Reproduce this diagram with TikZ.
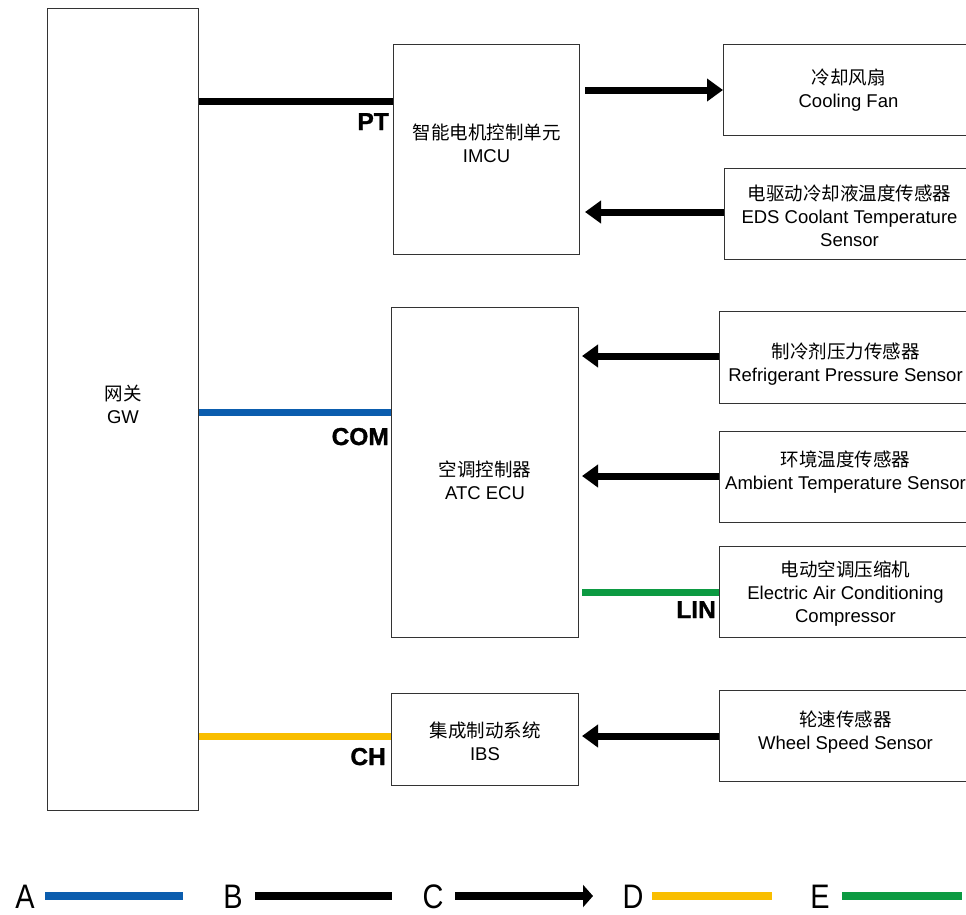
\documentclass[tikz,border=0pt]{standalone}
\usepackage{fontspec}
\setmainfont{Liberation Sans}
\newfontfamily\cjk{Noto Sans CJK SC}
\newfontfamily\heavy[FakeBold=1.2]{Liberation Sans Bold}
\usetikzlibrary{arrows.meta}
\definecolor{busblue}{HTML}{0B5DAE}
\definecolor{busyellow}{HTML}{F9BE00}
\definecolor{busgreen}{HTML}{0C9A42}
\definecolor{boxline}{HTML}{333333}
\tikzset{
  box/.style={draw=boxline, line width=1pt, fill=white, anchor=north west, inner sep=0pt},
  txt/.style={align=center, font=\fontsize{18.5}{23}\selectfont, inner sep=0pt},
  bus/.style={line width=7pt},
  sig/.style={line width=7pt, -{Triangle[length=16pt,width=22pt]}},
  buslabel/.style={font=\fontsize{24.5}{24.5}\heavy, inner sep=0pt},
  legletter/.style={font=\fontsize{34}{34}\selectfont, inner sep=0pt, anchor=base},
}
\begin{document}
\begin{tikzpicture}[x=1pt,y=-1pt]
\useasboundingbox (0,0) rectangle (966,914);
% main boxes
\node[box, minimum width=151pt, minimum height=802pt] (gw) at (47,8) {};
\node[box, minimum width=186pt, minimum height=210pt] (imcu) at (393,44) {};
\node[box, minimum width=187pt, minimum height=330pt] (atc) at (391,307) {};
\node[box, minimum width=187pt, minimum height=92pt] (ibs) at (391,693) {};
% right boxes (cut by the picture edge)
\node[box, minimum width=250pt, minimum height=91pt] (fan) at (723,44) {};
\node[box, minimum width=250pt, minimum height=91pt] (eds) at (724,168) {};
\node[box, minimum width=252pt, minimum height=92pt] (rps) at (719,311) {};
\node[box, minimum width=252pt, minimum height=91pt] (amb) at (719,431) {};
\node[box, minimum width=252pt, minimum height=91pt] (eac) at (719,546) {};
\node[box, minimum width=252pt, minimum height=91pt] (wss) at (719,690) {};
% box texts
\node[txt] (gwt) at ([yshift=5pt]gw.center) {{\cjk 网关}\\GW};
\node[txt] (imcut) at ([yshift=6pt]imcu.center) {{\cjk 智能电机控制单元}\\IMCU};
\node[txt] (atct) at ([yshift=-8pt]atc.center) {{\cjk 空调控制器}\\ATC ECU};
\node[txt] (ibst) at ([yshift=-1.5pt]ibs.center) {{\cjk 集成制动系统}\\IBS};
\node[txt] (fant) at (fan.center) {{\cjk 冷却风扇}\\Cooling Fan};
\node[txt] (edst) at ([yshift=-2pt]eds.center) {{\cjk 电驱动冷却液温度传感器}\\EDS Coolant Temperature\\Sensor};
\node[txt] (rpst) at ([yshift=-7pt]rps.center) {{\cjk 制冷剂压力传感器}\\Refrigerant Pressure Sensor};
\node[txt] (ambt) at ([yshift=5pt]amb.center) {{\cjk 环境温度传感器}\\Ambient Temperature Sensor};
\node[txt] (eact) at ([yshift=-2pt]eac.center) {{\cjk 电动空调压缩机}\\Electric Air Conditioning\\Compressor};
\node[txt] (wsst) at ([yshift=3.5pt]wss.center) {{\cjk 轮速传感器}\\Wheel Speed Sensor};
% buses from gateway
\draw[bus, black] (gw.east |- 0,101) -- (imcu.west |- 0,101);
\draw[bus, busblue] (gw.east |- 0,412) -- (atc.west |- 0,412);
\draw[bus, busyellow] (gw.east |- 0,736) -- (ibs.west |- 0,736);
\node[buslabel, anchor=base east] (pt) at (389,130) {PT};
\node[buslabel, anchor=base east] (com) at (389,445) {COM};
\node[buslabel, anchor=base east] (ch) at (386,765) {CH};
% signals
\draw[sig] ([xshift=5pt]imcu.east |- 0,90) -- (fan.west |- 0,90);
\draw[sig] (eds.west |- 0,212) -- ([xshift=5pt]imcu.east |- 0,212);
\draw[sig] (rps.west |- 0,356) -- ([xshift=3pt]atc.east |- 0,356);
\draw[sig] (amb.west |- 0,476) -- ([xshift=3pt]atc.east |- 0,476);
\draw[bus, busgreen] ([xshift=3pt]atc.east |- 0,592) -- (eac.west |- 0,592);
\node[buslabel, anchor=base east] (lin) at (716,618) {LIN};
\draw[sig] (wss.west |- 0,736) -- ([xshift=3pt]ibs.east |- 0,736);
% legend
\node[legletter] (la) at (25,908) {\scalebox{0.85}[1]{A}};
\node[legletter] (lb) at (233,908) {\scalebox{0.85}[1]{B}};
\node[legletter] (lc) at (433,908) {\scalebox{0.85}[1]{C}};
\node[legletter] (ld) at (633,908) {\scalebox{0.85}[1]{D}};
\node[legletter] (le) at (820,908) {\scalebox{0.85}[1]{E}};
\coordinate (a1) at (45,896); \coordinate (a2) at (183,896);
\coordinate (b1) at (255,896); \coordinate (b2) at (392,896);
\coordinate (c1) at (455,896); \coordinate (c2) at (593,896);
\coordinate (d1) at (652,896); \coordinate (d2) at (772,896);
\coordinate (e1) at (842,896); \coordinate (e2) at (962,896);
\draw[line width=8pt, busblue] (a1) -- (a2);
\draw[line width=8pt, black] (b1) -- (b2);
\draw[line width=8pt, black, -{Triangle[length=10pt,width=22pt]}] (c1) -- (c2);
\draw[line width=8pt, busyellow] (d1) -- (d2);
\draw[line width=8pt, busgreen] (e1) -- (e2);
\end{tikzpicture}
\end{document}
